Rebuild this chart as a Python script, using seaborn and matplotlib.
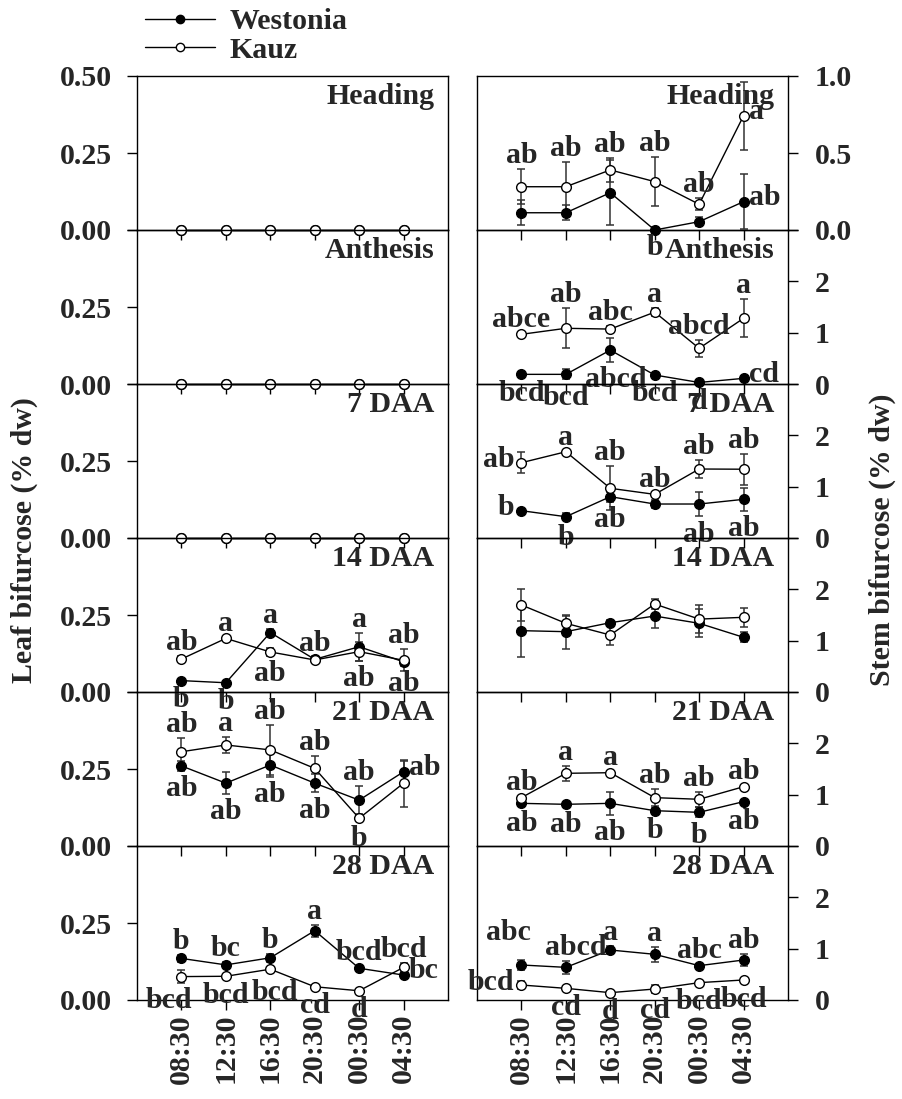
import numpy as np
import pandas as pd
import matplotlib
matplotlib.use("Agg")
import matplotlib.pyplot as plt
import seaborn as sns
from matplotlib.lines import Line2D

# ---------------- data ----------------
times = ["08:30", "12:30", "16:30", "20:30", "00:30", "04:30"]
stages = ["Heading", "Anthesis", "7 DAA", "14 DAA", "21 DAA", "28 DAA"]
cultivars = ["Westonia", "Kauz"]

# Leaf bifurcose (% dw), one row per stage
leaf_west = [
    [0, 0, 0, 0, 0, 0],
    [0, 0, 0, 0, 0, 0],
    [0, 0, 0, 0, 0, 0],
    [0.037, 0.030, 0.193, 0.106, 0.147, 0.098],
    [0.260, 0.204, 0.263, 0.204, 0.149, 0.241],
    [0.135, 0.114, 0.137, 0.225, 0.103, 0.081],
]
leaf_west_err = [
    [0, 0, 0, 0, 0, 0],
    [0, 0, 0, 0, 0, 0],
    [0, 0, 0, 0, 0, 0],
    [0.005, 0.004, 0.010, 0.012, 0.045, 0.012],
    [0.015, 0.035, 0.040, 0.030, 0.045, 0.035],
    [0.012, 0.008, 0.012, 0.020, 0.006, 0.006],
]
leaf_kauz = [
    [0, 0, 0, 0, 0, 0],
    [0, 0, 0, 0, 0, 0],
    [0, 0, 0, 0, 0, 0],
    [0.107, 0.174, 0.130, 0.104, 0.131, 0.103],
    [0.306, 0.328, 0.312, 0.252, 0.090, 0.204],
    [0.076, 0.077, 0.100, 0.043, 0.030, 0.106],
]
leaf_kauz_err = [
    [0, 0, 0, 0, 0, 0],
    [0, 0, 0, 0, 0, 0],
    [0, 0, 0, 0, 0, 0],
    [0.010, 0.006, 0.013, 0.010, 0.030, 0.035],
    [0.044, 0.025, 0.080, 0.040, 0.008, 0.076],
    [0.020, 0.006, 0.006, 0.005, 0.005, 0.015],
]

# Stem bifurcose (% dw), one row per stage
stem_west = [
    [0.112, 0.112, 0.242, 0.0, 0.054, 0.184],
    [0.188, 0.188, 0.660, 0.175, 0.030, 0.110],
    [0.532, 0.415, 0.805, 0.662, 0.662, 0.753],
    [1.195, 1.175, 1.350, 1.480, 1.338, 1.065],
    [0.831, 0.812, 0.831, 0.688, 0.656, 0.864],
    [0.682, 0.636, 0.974, 0.890, 0.669, 0.779],
]
stem_west_err = [
    [0.080, 0.050, 0.210, 0.020, 0.030, 0.180],
    [0.020, 0.100, 0.230, 0.020, 0.020, 0.020],
    [0.030, 0.070, 0.100, 0.070, 0.240, 0.230],
    [0.520, 0.330, 0.050, 0.240, 0.270, 0.100],
    [0.040, 0.040, 0.230, 0.050, 0.100, 0.040],
    [0.100, 0.130, 0.070, 0.150, 0.030, 0.120],
]
stem_kauz = [
    [0.281, 0.281, 0.390, 0.314, 0.167, 0.742],
    [0.968, 1.085, 1.070, 1.400, 0.695, 1.280],
    [1.467, 1.680, 0.968, 0.850, 1.344, 1.340],
    [1.695, 1.338, 1.110, 1.714, 1.420, 1.455],
    [0.942, 1.416, 1.428, 0.942, 0.910, 1.155],
    [0.292, 0.227, 0.143, 0.214, 0.338, 0.390],
]
stem_kauz_err = [
    [0.113, 0.160, 0.080, 0.160, 0.040, 0.220],
    [0.030, 0.390, 0.060, 0.080, 0.170, 0.370],
    [0.200, 0.020, 0.430, 0.030, 0.170, 0.300],
    [0.320, 0.140, 0.200, 0.100, 0.270, 0.190],
    [0.030, 0.150, 0.030, 0.170, 0.150, 0.030],
    [0.070, 0.030, 0.020, 0.070, 0.030, 0.030],
]

# Significance letters (u = above, d = below, l = left, r = right)
leaf_west_txt = {3: (["b", "b", "a", "", "a", "ab"], ["d", "d", "u", "", "u", "d"]),
                 4: (["ab", "ab", "ab", "ab", "ab", "ab"], ["d", "d", "d", "d", "u", "r"]),
                 5: (["b", "bc", "b", "a", "bcd", "bc"], ["u", "u", "u", "u", "u", "r"])}
leaf_kauz_txt = {3: (["ab", "a", "ab", "ab", "ab", "ab"], ["u", "u", "d", "u", "d", "u"]),
                 4: (["ab", "a", "ab", "ab", "b", ""], ["u", "u", "u", "u", "d", ""]),
                 5: (["bcd", "bcd", "bcd", "cd", "d", "bcd"], ["d", "d", "d", "d", "d", "u"])}
stem_west_txt = {0: (["", "", "", "b", "", "ab"], ["", "", "", "d", "", "r"]),
                 1: (["bcd", "bcd", "abcd", "bcd", "d", "cd"], ["d", "d", "d", "d", "d", "r"]),
                 2: (["b", "b", "ab", "", "ab", "ab"], ["l", "d", "d", "", "d", "d"]),
                 4: (["ab", "ab", "ab", "b", "b", "ab"], ["d", "d", "d", "d", "d", "d"]),
                 5: (["abc", "abcd", "a", "a", "abc", "ab"], ["u", "u", "u", "u", "u", "u"])}
stem_kauz_txt = {0: (["ab", "ab", "ab", "ab", "ab", "a"], ["u", "u", "u", "u", "u", "r"]),
                 1: (["abce", "ab", "abc", "a", "abcd", "a"], ["u", "u", "u", "u", "u", "u"]),
                 2: (["ab", "a", "ab", "ab", "ab", "ab"], ["l", "u", "u", "u", "u", "u"]),
                 4: (["ab", "a", "a", "ab", "ab", "ab"], ["u", "u", "u", "u", "u", "u"]),
                 5: (["bcd", "cd", "d", "cd", "bcd", "bcd"], ["l", "d", "d", "d", "d", "d"])}

# small layout nudges for a few letters (points): (series, stage, index) -> (dx, dy)
nudges = {
    ("stem_west", 5, 0): (-9, 10),
    ("stem_west", 5, 1): (7, 0),
    ("leaf_kauz", 5, 0): (-9, 0),
    ("leaf_kauz", 5, 2): (3, -3),
    ("stem_west", 1, 2): (4, 0),
}

# ---------------- style ----------------
sns.set_style("ticks")
plt.rcParams["font.family"] = ["Liberation Serif", "DejaVu Serif"]
plt.rcParams["font.weight"] = "bold"
plt.rcParams["axes.labelweight"] = "bold"
FS = 21.5

W, H = 902, 1099
fig = plt.figure(figsize=(W / 100, H / 100), dpi=100)

left_x0, right_x0, ax_w = 137 / W, 477 / W, 311 / W
top_px, row_px = 76, 154


def annotate(ax, name, r, vals, errs, labels, pos):
    for i, (lab, p) in enumerate(zip(labels, pos)):
        if not lab:
            continue
        v, e = vals[i], errs[i]
        if p == "u":
            xy, off, ha, va = (i, v + e), (0, 0), "center", "bottom"
        elif p == "d":
            xy, off, ha, va = (i, v - e if v - e > 0 else v), (0, -3), "center", "top"
        elif p == "l":
            xy, off, ha, va = (i, v), (-5, 2), "right", "center"
        else:
            xy, off, ha, va = (i, v), (4, 3), "left", "center"
        dx, dy = nudges.get((name, r, i), (0, 0))
        ax.annotate(lab, xy=xy, xytext=(off[0] + dx, off[1] + dy),
                    textcoords="offset points",
                    ha=ha, va=va, fontsize=FS, fontweight="bold",
                    annotation_clip=False, zorder=10)


def draw(ax, west, west_e, kauz, kauz_e):
    for vals, errs, fc in [(west, west_e, "black"), (kauz, kauz_e, "white")]:
        df = pd.DataFrame({"time": times, "value": vals})
        ax.errorbar(times, vals, yerr=errs, fmt="none", ecolor="#333333",
                    elinewidth=1.1, capsize=3, capthick=1.1, zorder=2)
        sns.lineplot(data=df, x="time", y="value", ax=ax, sort=False,
                     color="black", linewidth=1, marker="o", markersize=7,
                     markerfacecolor=fc, markeredgecolor="black",
                     markeredgewidth=1, legend=False, zorder=3)
    for ln in ax.lines:
        ln.set_clip_on(False)


for r, stage in enumerate(stages):
    bottom = 1 - (top_px + (r + 1) * row_px) / H
    axL = fig.add_axes([left_x0, bottom, ax_w, row_px / H])
    axR = fig.add_axes([right_x0, bottom, ax_w, row_px / H])

    draw(axL, leaf_west[r], leaf_west_err[r], leaf_kauz[r], leaf_kauz_err[r])
    draw(axR, stem_west[r], stem_west_err[r], stem_kauz[r], stem_kauz_err[r])

    for name, d, ax, v, e in [("leaf_west", leaf_west_txt, axL, leaf_west, leaf_west_err),
                              ("leaf_kauz", leaf_kauz_txt, axL, leaf_kauz, leaf_kauz_err),
                              ("stem_west", stem_west_txt, axR, stem_west, stem_west_err),
                              ("stem_kauz", stem_kauz_txt, axR, stem_kauz, stem_kauz_err)]:
        if r in d:
            annotate(ax, name, r, v[r], e[r], d[r][0], d[r][1])

    for ax in (axL, axR):
        ax.set_xlim(-1, 6)
        ax.patch.set_alpha(0)
        ax.set_xlabel("")
        ax.set_ylabel("")
        ax.text(0.955, 0.955, stage, transform=ax.transAxes, ha="right", va="top",
                fontsize=FS, fontweight="bold", zorder=5)
        for s in ax.spines.values():
            s.set_visible(True)
            s.set_linewidth(1)
            s.set_color("black")
        ax.tick_params(axis="both", direction="out", length=7, width=1,
                       labelsize=FS, color="black")
        if r < len(stages) - 1:
            ax.tick_params(axis="x", labelbottom=False)
        else:
            ax.tick_params(axis="x", labelrotation=90, pad=3)
            for t in ax.get_xticklabels():
                t.set_fontweight("bold")

    axL.set_ylim(0, 0.5)
    axL.set_yticks([0, 0.25, 0.5])
    axL.set_yticklabels(["0.00", "0.25", "0.50" if r == 0 else ""])
    axR.yaxis.tick_right()
    if r == 0:
        axR.set_ylim(0, 1.0)
        axR.set_yticks([0, 0.5, 1.0])
        axR.set_yticklabels(["0.0", "0.5", "1.0"])
    else:
        axR.set_ylim(0, 3)
        axR.set_yticks([0, 1, 2, 3])
        axR.set_yticklabels(["0", "1", "2", ""])
    for ax in (axL, axR):
        for t in ax.get_yticklabels():
            t.set_fontweight("bold")
    axR.tick_params(axis="y", pad=12)
    axL.tick_params(axis="y", pad=11)

fig.text(24 / W, 1 - 540 / H, "Leaf bifurcose (% dw)", rotation=90,
         ha="center", va="center", fontsize=FS, fontweight="bold")
fig.text(882 / W, 1 - 540 / H, "Stem bifurcose (% dw)", rotation=90,
         ha="center", va="center", fontsize=FS, fontweight="bold")

# legend
handles = [Line2D([], [], color="black", lw=1, marker="o", markersize=6,
                  markerfacecolor=fc, markeredgecolor="black")
           for fc in ("black", "white")]
fig.legend(handles, cultivars, loc="upper left", bbox_to_anchor=(118 / W, 1.017),
           frameon=False, handlelength=2.35, labelspacing=0.05,
           handletextpad=0.5, prop={"weight": "bold", "size": FS})

fig.savefig("out.png", dpi=100)
